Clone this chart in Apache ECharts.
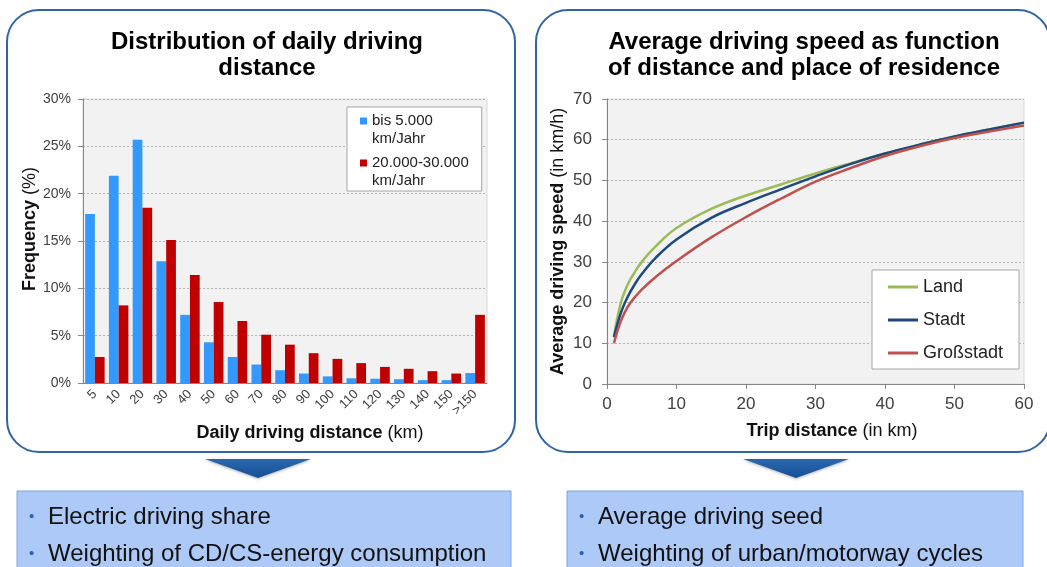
<!DOCTYPE html>
<html>
<head>
<meta charset="utf-8">
<script src="https://cdn.jsdelivr.net/npm/echarts@6/dist/echarts.min.js"></script>
<style>
  html, body {margin: 0; padding: 0; background: #fff;}
  #main {width: 1047px; height: 567px;}
</style>
</head>
<body>
<div id="main"></div>
<script>
// left chart: daily driving distance distribution (%)
const distCategories = ['5', '10', '20', '30', '40', '50', '60', '70', '80', '90', '100', '110', '120', '130', '140', '150', '>150'];
const lowMileage = [17.85, 21.9, 25.7, 12.85, 7.2, 4.3, 2.75, 1.95, 1.35, 1.0, 0.7, 0.5, 0.45, 0.4, 0.3, 0.3, 1.05];
const highMileage = [2.75, 8.2, 18.5, 15.1, 11.4, 8.55, 6.55, 5.1, 4.05, 3.15, 2.55, 2.1, 1.7, 1.5, 1.25, 1.0, 7.2];
const freqTicks = [0, 5, 10, 15, 20, 25, 30];

// right chart: average speed (km/h) over trip distance (km)
const tripKm = [1, 2, 3, 4, 5, 7, 10, 15, 20, 25, 30, 35, 40, 45, 50, 55, 60];
const speedLand = [11.8, 20, 24.5, 27.5, 30, 33.8, 38.3, 43, 46.3, 49, 51.7, 54.2, 56.6, 58.8, 60.8, 62.5, 64.2];
const speedStadt = [11.5, 17.5, 21.5, 24.5, 27, 31, 35.5, 40.8, 44.5, 47.8, 51, 54, 56.6, 58.8, 60.8, 62.5, 64.2];
const speedGross = [10, 15.5, 19, 21.3, 23.2, 26.3, 30.2, 36, 41, 45.5, 49.7, 53, 56, 58.4, 60.4, 62, 63.5];

const font = 'Liberation Sans, Arial, sans-serif';
const axisGrey = '#868686';
const labelColor = '#404040';
const pairs = (ys) => tripKm.map((x, i) => [x, ys[i]]);
// square sitting on the first of two text lines (tiny corner specks fix the icon box)
const topSquare = 'path://M0,0h0.05v0.05h-0.05Z M0,5.5h7v7h-7Z M6.95,35.95h0.05v0.05h-0.05Z';

const chart = echarts.init(document.getElementById('main'));

const bottomBox = (x, w, arrowX, lines) => [
  {
    type: 'polygon', z: 5,
    shape: {points: [[arrowX - 53, 459], [arrowX + 53, 459], [arrowX, 478]]},
    style: {
      fill: new echarts.graphic.LinearGradient(0, 0, 0, 1, [
        {offset: 0, color: '#2a68b0'}, {offset: 1, color: '#164f94'}
      ]),
      shadowBlur: 3, shadowColor: 'rgba(0,0,0,0.3)', shadowOffsetY: 1
    }
  },
  {
    type: 'rect', z: 5,
    shape: {x: x, y: 491, width: w, height: 90},
    style: {fill: '#adc9f8', stroke: '#7ea6e0', lineWidth: 1}
  },
  ...lines.flatMap((t, i) => [
    {type: 'text', z: 6, x: x + 12, y: 517 + i * 37,
      style: {text: '•', fill: '#2a62b0', font: '15px ' + font, verticalAlign: 'middle'}},
    {type: 'text', z: 6, x: x + 31, y: 517 + i * 37,
      style: {text: t, fill: '#111', font: '24px ' + font, verticalAlign: 'middle'}}
  ])
];

chart.setOption({
  animation: false,
  textStyle: {fontFamily: font},
  title: [
    {
      text: 'Distribution of daily driving\ndistance',
      left: 262, top: 24, textAlign: 'center',
      textStyle: {fontSize: 24, fontWeight: 'bold', color: '#000', lineHeight: 26, fontFamily: font}
    },
    {
      text: 'Average driving speed as function\nof distance and place of residence',
      left: 799, top: 24, textAlign: 'center',
      textStyle: {fontSize: 24, fontWeight: 'bold', color: '#000', lineHeight: 26, fontFamily: font}
    }
  ],
  graphic: [
    {
      type: 'rect', z: -10,
      shape: {x: 7, y: 10, width: 508, height: 442, r: 32},
      style: {fill: '#fff', stroke: '#2f65a8', lineWidth: 2}
    },
    {
      type: 'rect', z: -10,
      shape: {x: 536, y: 10, width: 514, height: 442, r: 32},
      style: {fill: '#fff', stroke: '#2f65a8', lineWidth: 2}
    },
    ...bottomBox(17, 494, 258, ['Electric driving share', 'Weighting of CD/CS-energy consumption']),
    ...bottomBox(567, 456, 796, ['Average driving seed', 'Weighting of urban/motorway cycles'])
  ],
  legend: [
    {
      data: ['bis 5.000\nkm/Jahr', '20.000-30.000\nkm/Jahr'],
      orient: 'vertical',
      left: 347, top: 107,
      padding: [5, 13, 1, 13],
      itemGap: 6,
      icon: topSquare, itemWidth: 7, itemHeight: 36,
      backgroundColor: '#fff', borderColor: '#a6a6a6', borderWidth: 1,
      textStyle: {fontSize: 15, color: '#222', lineHeight: 18}
    },
    {
      data: ['Land', 'Stadt', 'Großstadt'],
      orient: 'vertical',
      left: 872, top: 270,
      padding: [7, 16, 6, 16],
      itemGap: 13,
      icon: 'rect', itemWidth: 30, itemHeight: 3,
      backgroundColor: '#fff', borderColor: '#a6a6a6', borderWidth: 1,
      textStyle: {fontSize: 18, color: '#222', lineHeight: 20}
    }
  ],
  grid: [
    {left: 83, top: 99, width: 404, height: 284, show: true, backgroundColor: '#f2f2f2', borderColor: '#d9d9d9', borderWidth: 1},
    {left: 607, top: 99, width: 417, height: 285, show: true, backgroundColor: '#f2f2f2', borderColor: '#d9d9d9', borderWidth: 1}
  ],
  xAxis: [
    {
      gridIndex: 0, type: 'category', data: distCategories,
      axisLine: {lineStyle: {color: axisGrey}},
      axisTick: {length: 5, lineStyle: {color: axisGrey}},
      axisLabel: {interval: 0, rotate: 45, fontSize: 13, color: labelColor, margin: 9},
      name: '{b|Daily driving distance} (km)',
      nameLocation: 'middle', nameGap: 40,
      nameTextStyle: {fontSize: 18, color: '#111', padding: [0, 0, 0, 50],
        rich: {b: {fontSize: 18, fontWeight: 'bold', color: '#111'}}}
    },
    {
      gridIndex: 1, type: 'value', min: 0, max: 60, interval: 10,
      axisLine: {lineStyle: {color: axisGrey}},
      axisTick: {length: 5, lineStyle: {color: axisGrey}},
      splitLine: {show: false},
      axisLabel: {fontSize: 17, color: labelColor, margin: 12},
      name: '{b|Trip distance} (in km)',
      nameLocation: 'middle', nameGap: 38,
      nameTextStyle: {fontSize: 18, color: '#111', padding: [0, 0, 0, 33],
        rich: {b: {fontSize: 18, fontWeight: 'bold', color: '#111'}}}
    }
  ],
  yAxis: [
    {
      gridIndex: 0, type: 'value', min: freqTicks[0], max: freqTicks[freqTicks.length - 1], interval: 5,
      axisLine: {show: true, lineStyle: {color: axisGrey}},
      axisTick: {show: true, length: 5, lineStyle: {color: axisGrey}},
      splitLine: {lineStyle: {color: '#b4b4b4', type: [2, 2]}},
      axisLabel: {formatter: '{value}%', fontSize: 14, color: labelColor, margin: 12},
      name: '{b|Frequency} (%)',
      nameLocation: 'middle', nameGap: 44, nameRotate: 90,
      nameTextStyle: {fontSize: 18, color: '#111', padding: [0, 0, 0, 24],
        rich: {b: {fontSize: 18, fontWeight: 'bold', color: '#111'}}}
    },
    {
      gridIndex: 1, type: 'value', min: 0, max: 70, interval: 10,
      axisLine: {show: true, lineStyle: {color: axisGrey}},
      axisTick: {show: true, length: 5, lineStyle: {color: axisGrey}},
      splitLine: {lineStyle: {color: '#b4b4b4', type: [2, 2]}},
      axisLabel: {fontSize: 17, color: labelColor, margin: 15},
      name: '{b|Average driving speed} (in km/h)',
      nameLocation: 'middle', nameGap: 40, nameRotate: 90,
      nameTextStyle: {fontSize: 18, color: '#111',
        rich: {b: {fontSize: 18, fontWeight: 'bold', color: '#111'}}}
    }
  ],
  series: [
    {
      name: 'bis 5.000\nkm/Jahr', type: 'bar', xAxisIndex: 0, yAxisIndex: 0,
      data: lowMileage, barGap: '0%', barCategoryGap: '18%',
      itemStyle: {color: '#3399ff'}
    },
    {
      name: '20.000-30.000\nkm/Jahr', type: 'bar', xAxisIndex: 0, yAxisIndex: 0,
      data: highMileage, barGap: '0%', barCategoryGap: '18%',
      itemStyle: {color: '#c00000'}
    },
    {
      name: 'Land', type: 'line', xAxisIndex: 1, yAxisIndex: 1,
      data: pairs(speedLand), smooth: 0.4, symbol: 'none',
      lineStyle: {color: '#9bbb59', width: 2.5}, itemStyle: {color: '#9bbb59'}
    },
    {
      name: 'Stadt', type: 'line', xAxisIndex: 1, yAxisIndex: 1,
      data: pairs(speedStadt), smooth: 0.4, symbol: 'none',
      lineStyle: {color: '#1f497d', width: 2.5}, itemStyle: {color: '#1f497d'}
    },
    {
      name: 'Großstadt', type: 'line', xAxisIndex: 1, yAxisIndex: 1,
      data: pairs(speedGross), smooth: 0.4, symbol: 'none',
      lineStyle: {color: '#c0504d', width: 2.5}, itemStyle: {color: '#c0504d'}
    }
  ]
});
</script>
</body>
</html>
